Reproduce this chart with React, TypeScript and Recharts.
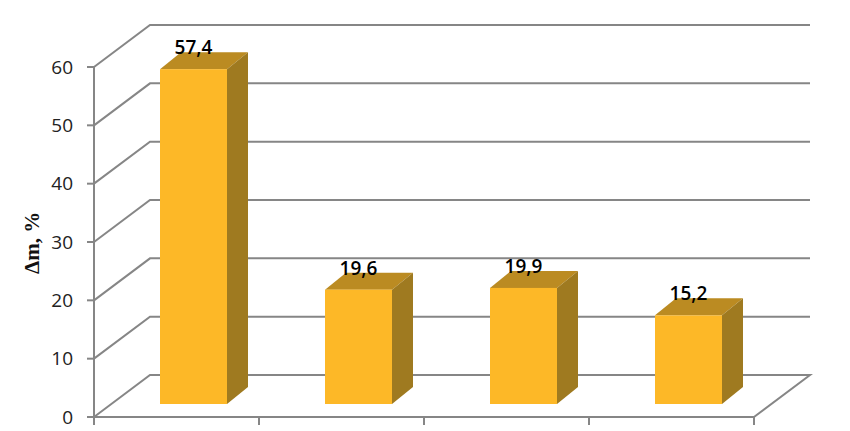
import { Bar, BarChart, CartesianGrid, LabelList, XAxis, YAxis } from "recharts";

const categories = ["1", "2", "3", "4"];
const values = [57.4, 19.6, 19.9, 15.2];
const yTicks = [0, 10, 20, 30, 40, 50, 60];

const chartData = categories.map((name, i) => ({ name, value: values[i] }));

const WIDTH = 850;
const HEIGHT = 431;
const X_AXIS_H = 14;
const MARGIN = { top: 67, right: 96, bottom: 0, left: 0 };
const AXIS_W = 94;
const BAND = (WIDTH - MARGIN.right - AXIS_W) / categories.length;
// wall depth of the fake 3D box, and where the bars stand on the floor
const WALL_DX = 56;
const WALL_DY = 42;
const BAR_DX = 17;
const BAR_DY = 13;
const DEPTH_X = 21;
const DEPTH_Y = 17;

const LINE = "#868686";
const FRONT = "#fdb827";
const TOP = "#bb8b22";
const SIDE = "#9f7a20";

function WallLine({ x1, y1, x2 }: any) {
  const floor = Math.abs(y1 - (HEIGHT - X_AXIS_H)) < 1;
  const bx = x1 + WALL_DX;
  const ex = x2 + WALL_DX;
  const by = y1 - WALL_DY;
  const d = `M${x1} ${y1}L${bx} ${by}L${ex} ${by}` + (floor ? `L${x2} ${y1}` : "");
  return <path d={d} fill="none" stroke={LINE} strokeWidth={2} />;
}

function BoxBar({ x, y, width, height }: any) {
  const l = x + BAR_DX;
  const r = l + width;
  const t = y - BAR_DY;
  const b = t + height;
  return (
    <g>
      <polygon
        points={`${l},${t} ${r},${t} ${r + DEPTH_X},${t - DEPTH_Y} ${l + DEPTH_X},${t - DEPTH_Y}`}
        fill={TOP}
      />
      <polygon
        points={`${r},${t} ${r + DEPTH_X},${t - DEPTH_Y} ${r + DEPTH_X},${b - DEPTH_Y} ${r},${b}`}
        fill={SIDE}
      />
      <rect x={l} y={t} width={width} height={height} fill={FRONT} />
    </g>
  );
}

function BarValue({ x, y, width, value }: any) {
  return (
    <text
      x={x + BAR_DX + width / 2}
      y={y - BAR_DY - 15}
      textAnchor="middle"
      fontFamily="'Open Sans', sans-serif"
      fontWeight={600}
      fontSize={19}
      fill="#000"
    >
      {String(value).replace(".", ",")}
    </text>
  );
}

function XTick({ x, y, index }: any) {
  const left = x - BAND / 2;
  return (
    <g>
      <line x1={left} y1={y - 8} x2={left} y2={y} stroke={LINE} strokeWidth={2} />
      {index === categories.length - 1 && (
        <line x1={left + BAND} y1={y - 8} x2={left + BAND} y2={y} stroke={LINE} strokeWidth={2} />
      )}
    </g>
  );
}

export default function App() {
  return (
    <div style={{ position: "absolute", left: 0, top: 0, width: WIDTH, height: HEIGHT, background: "#fff" }}>
      <BarChart width={WIDTH} height={HEIGHT} data={chartData} margin={MARGIN}>
        <CartesianGrid vertical={false} horizontal={(props: any) => <WallLine key={props.key} {...props} />} />
        <XAxis
          dataKey="name"
          height={X_AXIS_H}
          tickLine={false}
          tick={<XTick />}
          interval={0}
          axisLine={{ stroke: LINE, strokeWidth: 2 }}
        />
        <YAxis
          width={AXIS_W}
          domain={[0, 60]}
          ticks={yTicks}
          interval={0}
          tickSize={7}
          tickMargin={14}
          tickLine={{ stroke: LINE, strokeWidth: 2 }}
          axisLine={{ stroke: LINE, strokeWidth: 2 }}
          tick={{ fill: "#222", fontSize: 19, fontFamily: "'Open Sans', sans-serif" }}
          label={{
            value: "Δm, %",
            angle: -90,
            position: "insideLeft",
            offset: 32,
            dy: 32,
            style: { fontFamily: "'Liberation Serif', serif", fontWeight: 700, fontSize: 21, fill: "#111" },
          }}
        />
        <Bar dataKey="value" barSize={67} shape={<BoxBar />} isAnimationActive={false}>
          <LabelList dataKey="value" content={<BarValue />} />
        </Bar>
      </BarChart>
    </div>
  );
}
